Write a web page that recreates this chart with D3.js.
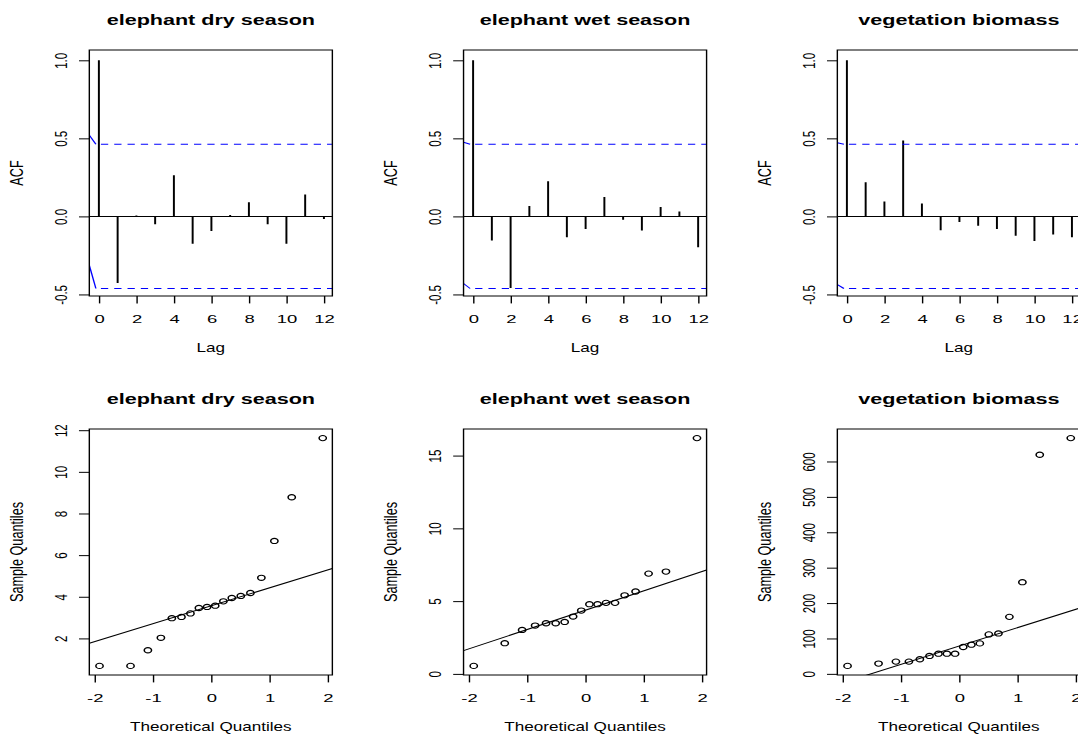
<!DOCTYPE html>
<html>
<head>
<meta charset="utf-8">
<script src="https://cdn.jsdelivr.net/npm/d3@7"></script>
<style>
  html, body { margin: 0; padding: 0; background: #fff; }
  svg { display: block; }
  text { font-family: "Liberation Sans", Arial, Helvetica, sans-serif; fill: #000; }
</style>
</head>
<body>
<svg id="chart"></svg>
<script>
// ---- data -------------------------------------------------------------
const panelTitles = ["elephant dry season", "elephant wet season", "vegetation biomass"];

// autocorrelation by lag
const lags     = [0, 1, 2, 3, 4, 5, 6, 7, 8, 9, 10, 11, 12];
const lagTicks = [0, 2, 4, 6, 8, 10, 12];
const acfTicks = [-0.5, 0, 0.5, 1.0];
const acfDry = [1.0, -0.427, 0.006, -0.051, 0.263, -0.175, -0.094, 0.009, 0.09, -0.051, -0.175, 0.141, -0.017];
const acfWet = [1.0, -0.154, -0.458, 0.066, 0.225, -0.133, -0.081, 0.124, -0.021, -0.09, 0.06, 0.032, -0.197];
const acfVeg = [1.0, 0.218, 0.096, 0.486, 0.083, -0.088, -0.036, -0.06, -0.081, -0.124, -0.158, -0.116, -0.133];
const confLimit = 0.462;                       // 1.96 / sqrt(n), n = 18
const confLeadUpper = [0.52, 0.475, 0.472];    // start of the solid blue lead-in at the left edge
const confLeadLower = [-0.314, -0.43, -0.437];

// normal Q-Q: theoretical quantiles and sorted sample values
const theoQuantiles = [-1.915, -1.383, -1.085, -0.862, -0.674, -0.509, -0.355, -0.210, -0.070,
                        0.070, 0.210, 0.355, 0.509, 0.674, 0.862, 1.085, 1.383, 1.915];
const qqDry = [0.68, 0.68, 1.43, 2.03, 2.97, 3.03, 3.2, 3.46, 3.51, 3.57, 3.78, 3.94, 4.04, 4.18, 4.91, 6.68, 8.78, 11.62];
const qqWet = [0.55, 2.11, 3.02, 3.32, 3.48, 3.48, 3.57, 3.94, 4.35, 4.79, 4.79, 4.88, 4.88, 5.40, 5.66, 6.89, 7.03, 16.2];
const qqVeg = [22.5, 29, 34.6, 34.6, 41.2, 50.6, 57, 57, 57, 75.8, 82.4, 86.1, 111.4, 114.2, 161, 259, 619, 666];
const qqXTicks = [-2, -1, 0, 1, 2];
const qqYTicksDry = [2, 4, 6, 8, 10, 12];
const qqYTicksWet = [0, 5, 10, 15];
const qqYTicksVeg = [0, 100, 200, 300, 400, 500, 600];

// ---- layout -----------------------------------------------------------
const W = 1078, H = 734, SX = 1.4;      // device is drawn horizontally stretched
const VW = W / SX;
const colLeft = [63.8, 331.1, 598.1];
const rowTop = [50, 429];
const boxW = 173.6, boxH = 246;
const tickLen = 7.4;
const Z75 = 0.6744898;

const svg = d3.select("#chart")
  .attr("width", W).attr("height", H)
  .attr("viewBox", `0 0 ${VW} ${H}`)
  .attr("preserveAspectRatio", "none");
svg.append("rect").attr("width", VW).attr("height", H).attr("fill", "#fff");

let clipId = 0;

function frame(g, title, xLabel, yLabel) {
  g.append("text")
    .attr("transform", `translate(${boxW / 2},-25) scale(1.1,1)`)
    .attr("text-anchor", "middle")
    .style("font-weight", "bold").style("font-size", "14px")
    .text(title);
  g.append("text")
    .attr("transform", `translate(${boxW / 2},${boxH + 56}) scale(0.94,1)`)
    .attr("text-anchor", "middle")
    .style("font-size", "13px")
    .text(xLabel);
  g.append("text")
    .attr("transform", `translate(-47.7,${boxH / 2}) rotate(-90)`)
    .attr("text-anchor", "middle")
    .style("font-size", "12.7px")
    .text(yLabel);
  g.append("rect")
    .attr("width", boxW).attr("height", boxH)
    .attr("fill", "none").attr("stroke", "#000").attr("stroke-width", 1);
}

function axes(g, x, y, xTicks, yTicks, yFmt) {
  const xa = g.append("g")
    .attr("transform", `translate(0,${boxH})`)
    .call(d3.axisBottom(x).tickValues(xTicks).tickSize(tickLen).tickSizeOuter(0).tickFormat(d => String(d)));
  xa.select(".domain").remove();
  xa.selectAll("line").attr("stroke", "#000").attr("stroke-width", 1);
  xa.selectAll("text")
    .attr("y", 27.5).attr("dy", null)
    .attr("transform", "scale(1.2,1)")
    .style("font-size", "11px");

  const ya = g.append("g")
    .call(d3.axisLeft(y).tickValues(yTicks).tickSize(tickLen).tickSizeOuter(0).tickFormat(yFmt));
  ya.select(".domain").remove();
  ya.selectAll("line").attr("stroke", "#000").attr("stroke-width", 1);
  ya.selectAll("text")
    .attr("x", 0).attr("y", 0).attr("dy", null)
    .attr("text-anchor", "middle")
    .attr("transform", "translate(-16,0) rotate(-90)")
    .style("font-size", "11.5px");
}

function clipFor(g) {
  const id = "clip" + (clipId++);
  g.append("clipPath").attr("id", id)
    .append("rect").attr("width", boxW).attr("height", boxH);
  return `url(#${id})`;
}

// ---- ACF panels -------------------------------------------------------
function acfPanel(col, title, values, leadUp, leadLow) {
  const g = svg.append("g").attr("transform", `translate(${colLeft[col]},${rowTop[0]})`);
  const x = d3.scaleLinear().domain([-0.51, 12.45]).range([0, boxW]);
  const y = d3.scaleLinear().domain([-0.51, 1.066]).range([boxH, 0]);
  const clip = clipFor(g);
  const plot = g.append("g").attr("clip-path", clip);

  plot.append("line")
    .attr("x1", 0).attr("x2", boxW).attr("y1", y(0)).attr("y2", y(0))
    .attr("stroke", "#000").attr("stroke-width", 1);

  plot.selectAll(".spike").data(values).join("line")
    .attr("class", "spike")
    .attr("x1", (d, i) => x(lags[i])).attr("x2", (d, i) => x(lags[i]))
    .attr("y1", y(0)).attr("y2", d => y(d))
    .attr("stroke", "#000").attr("stroke-width", 1.4);

  const leadEnd = -0.16;
  [[confLimit, leadUp], [-confLimit, leadLow]].forEach(([c, lead]) => {
    plot.append("line")
      .attr("x1", x(-0.51)).attr("y1", y(lead))
      .attr("x2", x(leadEnd)).attr("y2", y(c))
      .attr("stroke", "#0000ff").attr("stroke-width", 1);
    plot.append("line")
      .attr("x1", x(leadEnd)).attr("x2", boxW)
      .attr("y1", y(c)).attr("y2", y(c))
      .attr("stroke", "#0000ff").attr("stroke-width", 1)
      .attr("stroke-dasharray", "5.2,4.3").attr("stroke-dashoffset", 5.9);
  });

  axes(g, x, y, lagTicks, acfTicks, d => d.toFixed(1));
  frame(g, title, "Lag", "ACF");
}

// ---- Q-Q panels -------------------------------------------------------
function qqPanel(col, title, sample, yTicks) {
  const g = svg.append("g").attr("transform", `translate(${colLeft[col]},${rowTop[1]})`);
  const ext = d3.extent(sample);
  const pad = (ext[1] - ext[0]) * 0.04;
  const x = d3.scaleLinear().domain([-2.09, 2.08]).range([0, boxW]);
  const y = d3.scaleLinear().domain([ext[0] - pad, ext[1] + pad]).range([boxH, 0]);
  const clip = clipFor(g);
  const plot = g.append("g").attr("clip-path", clip);

  // reference line through the first and third quartiles
  const q1 = d3.quantile(sample, 0.25), q3 = d3.quantile(sample, 0.75);
  const slope = (q3 - q1) / (2 * Z75);
  const intercept = q1 + Z75 * slope;
  const [xa, xb] = x.domain();
  plot.append("line")
    .attr("x1", x(xa)).attr("y1", y(intercept + slope * xa))
    .attr("x2", x(xb)).attr("y2", y(intercept + slope * xb))
    .attr("stroke", "#000").attr("stroke-width", 1);

  plot.selectAll(".pt").data(sample).join("circle")
    .attr("class", "pt")
    .attr("cx", (d, i) => x(theoQuantiles[i]))
    .attr("cy", d => y(d))
    .attr("r", 2.6)
    .attr("fill", "none").attr("stroke", "#000").attr("stroke-width", 1.1);

  axes(g, x, y, qqXTicks, yTicks, d => String(d));
  frame(g, title, "Theoretical Quantiles", "Sample Quantiles");
}

acfPanel(0, panelTitles[0], acfDry, confLeadUpper[0], confLeadLower[0]);
acfPanel(1, panelTitles[1], acfWet, confLeadUpper[1], confLeadLower[1]);
acfPanel(2, panelTitles[2], acfVeg, confLeadUpper[2], confLeadLower[2]);

qqPanel(0, panelTitles[0], qqDry, qqYTicksDry);
qqPanel(1, panelTitles[1], qqWet, qqYTicksWet);
qqPanel(2, panelTitles[2], qqVeg, qqYTicksVeg);
</script>
</body>
</html>
